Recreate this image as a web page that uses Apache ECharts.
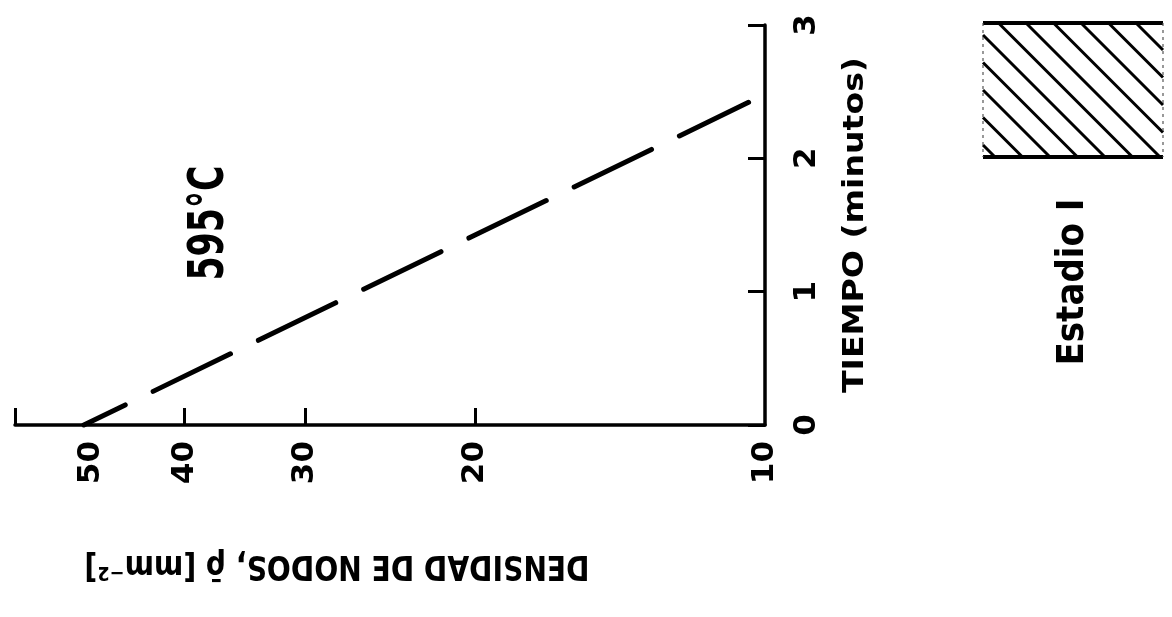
<!DOCTYPE html>
<html><head><meta charset="utf-8">
<script src="https://cdn.jsdelivr.net/npm/echarts@6/dist/echarts.min.js"></script>
<style>html,body{margin:0;padding:0;background:#fff}#c{width:1172px;height:617px}</style>
</head><body><div id="c"></div>
<script>
// ---- data ----
const densityValues = [50.9, 10.4];     // rho [mm^-2]
const timeValues = [0, 2.42];           // minutes
const densityTickValues = [60, 40, 30, 20];
const densityLabelValues = [50, 40, 30, 20, 10];
const timeMin = 0, timeMax = 3, timeStep = 1;
const densityMin = 10, densityMax = 60;
const tempLabel = '595\u00B0C';
const xName = 'DENSIDAD DE NODOS, \u03C1\u0304 [mm\u207B\u00B2]';
const yName = 'TIEMPO (minutos)';
const legendName = 'Estadio I';

// ---- helpers ----
const FONT = '"DejaVu Sans", "Liberation Sans", sans-serif';
const ctx2d = document.createElement('canvas').getContext('2d');
function fitText(text, size, target, x, y, rot) {
  const font = 'bold ' + size + 'px ' + FONT;
  ctx2d.font = font;
  const w = ctx2d.measureText(text).width;
  return {
    type: 'text', x: x, y: y, rotation: rot, scaleX: target / w, scaleY: 1,
    silent: true,
    style: { text: text, font: font, fill: '#000', align: 'center', verticalAlign: 'middle' }
  };
}

// hatched legend swatch
const R = { x0: 983, y0: 23, x1: 1163, y1: 157 };
const hatch = [];
for (let c = -838; c > R.y0 - R.x1; c -= 27.5) {
  const xa = Math.max(R.x0, R.y0 - c), xb = Math.min(R.x1, R.y1 - c);
  if (xb > xa) hatch.push({ type: 'line', silent: true,
    shape: { x1: xa, y1: xa + c, x2: xb, y2: xb + c },
    style: { stroke: '#000', lineWidth: 3 } });
}
hatch.push({ type: 'line', silent: true, shape: { x1: R.x0, y1: R.y0, x2: R.x1, y2: R.y0 }, style: { stroke: '#000', lineWidth: 4 } });
hatch.push({ type: 'line', silent: true, shape: { x1: R.x0, y1: R.y1, x2: R.x1, y2: R.y1 }, style: { stroke: '#000', lineWidth: 4 } });
hatch.push({ type: 'line', silent: true, shape: { x1: R.x0, y1: R.y0, x2: R.x0, y2: R.y1 }, style: { stroke: '#555', lineWidth: 1.2, lineDash: [3, 4] } });
hatch.push({ type: 'line', silent: true, shape: { x1: R.x1, y1: R.y0, x2: R.x1, y2: R.y1 }, style: { stroke: '#555', lineWidth: 1.2, lineDash: [3, 4] } });

const chart = echarts.init(document.getElementById('c'), null, { renderer: 'canvas' });
const axisFont = { color: '#000', fontFamily: FONT, fontWeight: 'bold', fontSize: 31 };
chart.setOption({
  animation: false,
  backgroundColor: '#fff',
  grid: { left: 15, right: 407, top: 25, bottom: 192, containLabel: false, outerBoundsMode: 'none' },
  xAxis: {
    type: 'log', logBase: 10, min: densityMin, max: densityMax, inverse: true,
    axisLine: { lineStyle: { color: '#000', width: 3.5 } },
    axisTick: { inside: true, length: 17, lineStyle: { color: '#000', width: 3 }, customValues: densityTickValues },
    axisLabel: Object.assign({ customValues: densityLabelValues, rotate: 90, margin: 16,
      formatter: v => String(Math.round(v)) }, axisFont),
    splitLine: { show: false }, minorTick: { show: false }
  },
  yAxis: {
    type: 'value', min: timeMin, max: timeMax, interval: timeStep, position: 'right',
    axisLine: { lineStyle: { color: '#000', width: 3.5 } },
    axisTick: { inside: true, length: 17, lineStyle: { color: '#000', width: 3 } },
    axisLabel: Object.assign({ rotate: 90, margin: 26 }, axisFont),
    splitLine: { show: false }
  },
  series: [{
    type: 'line', symbol: 'none', silent: true, clip: false,
    data: densityValues.map((d, i) => [d, timeValues[i]]),
    lineStyle: { color: '#000', width: 5, type: [86, 31], dashOffset: 40, cap: 'round' }
  }],
  graphic: [
    fitText(tempLabel, 49, 115, 210, 223, Math.PI / 2),
    fitText(yName, 29, 336, 855, 225, Math.PI / 2),
    fitText(xName, 34, 505, 337, 565, Math.PI),
    fitText(legendName, 37, 167, 1073, 282, Math.PI / 2)
  ].concat(hatch)
});
</script>
</body></html>
